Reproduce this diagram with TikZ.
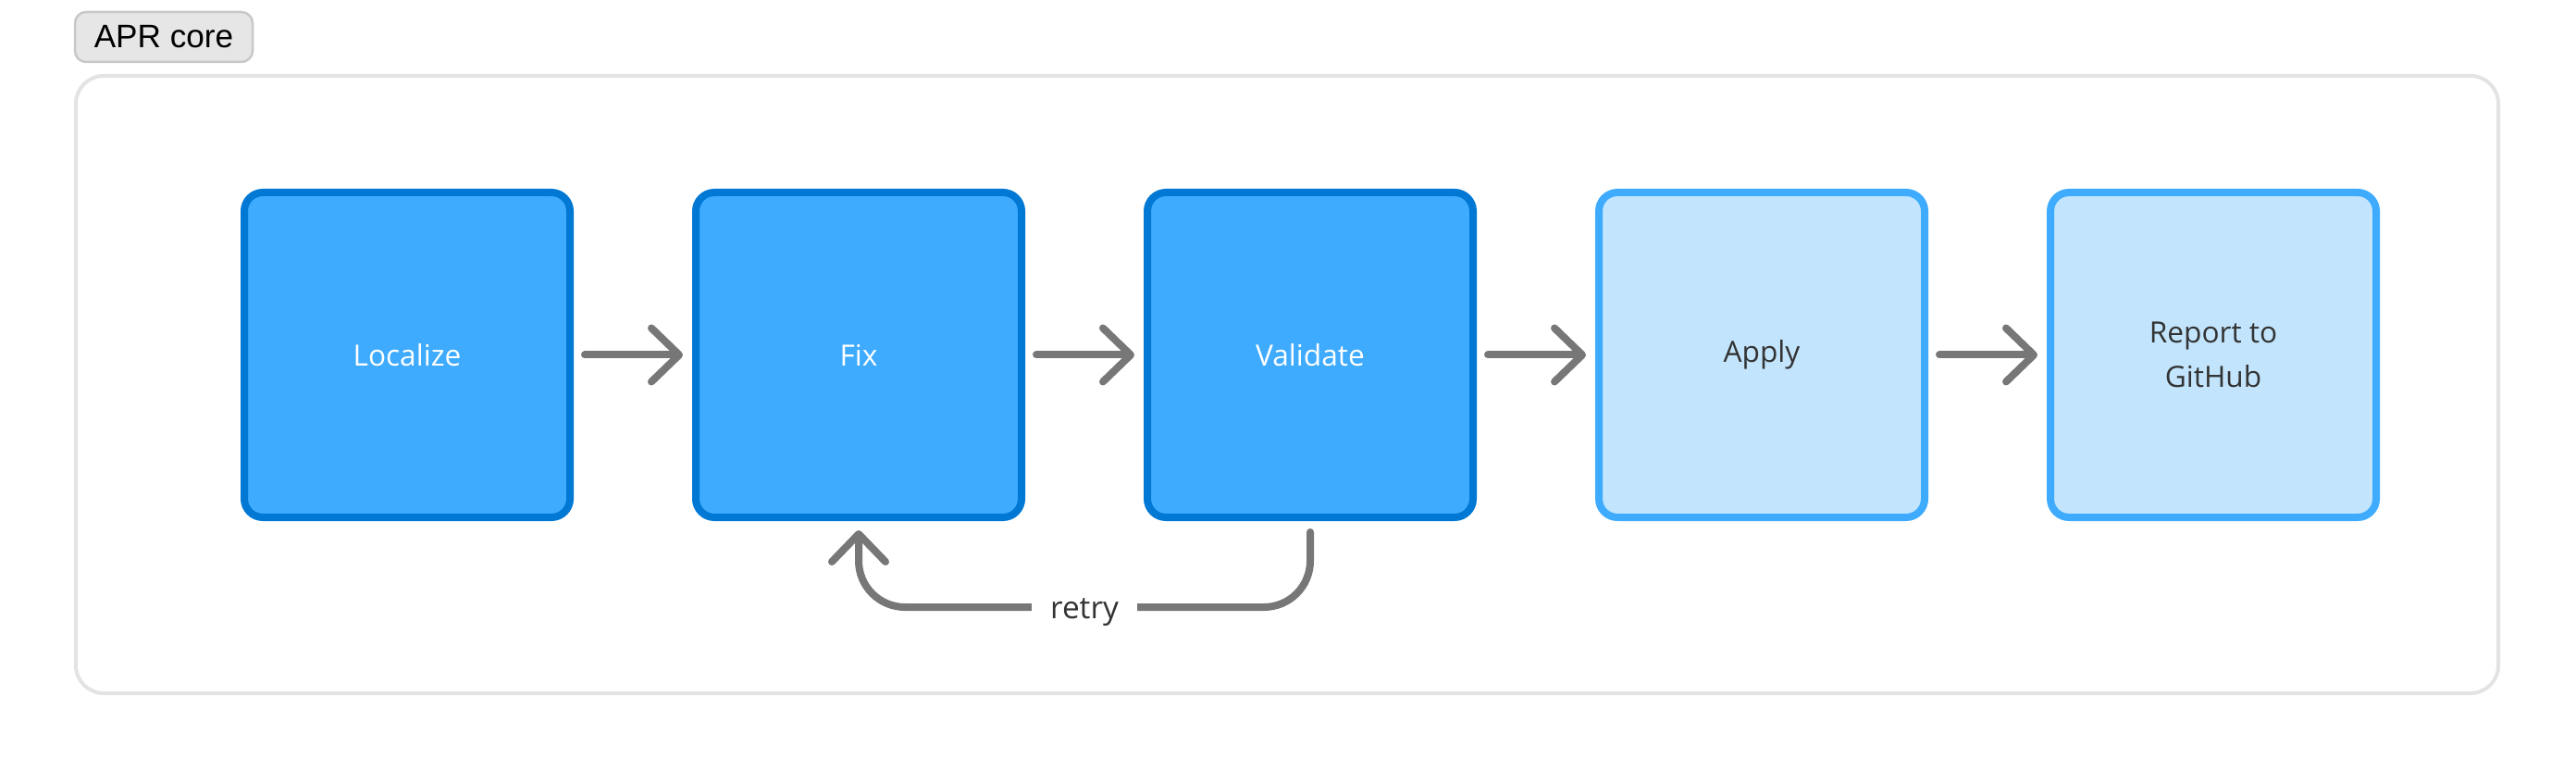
\documentclass[tikz,border=0pt]{standalone}
\usepackage{fontspec}
\setmainfont{Open Sans}
\newfontfamily\tagfont{Liberation Sans}
\usepackage{tikz}
\usetikzlibrary{arrows.meta,positioning}
\definecolor{coreblue}{HTML}{3EABFE}
\definecolor{coreedge}{HTML}{0078D4}
\definecolor{postfill}{HTML}{C2E5FD}
\definecolor{flowgray}{HTML}{777777}
\definecolor{textgray}{HTML}{333333}
\definecolor{framegray}{HTML}{E3E3E3}
\definecolor{tagfill}{HTML}{E6E6E6}
\definecolor{tagedge}{HTML}{C8C8C8}

\begin{document}
\begin{tikzpicture}[>={Straight Barb[length=0.3cm,width=0.58cm,round]}, node distance=1.28cm, font=\fontsize{9}{13.7}\selectfont]
	\tikzstyle{stage}=[draw, line width=0.08cm, rounded corners=0.2cm, minimum width=3.52cm, minimum height=3.51cm, inner sep=0pt, align=center]
	\tikzstyle{core}=[stage, fill=coreblue, draw=coreedge, text=white]
	\tikzstyle{post}=[stage, fill=postfill, draw=coreblue, text=textgray]
	\tikzstyle{flow}=[->, draw=flowgray, line width=0.08cm, line cap=round, shorten <=0.12cm, shorten >=0.1cm]
	\useasboundingbox (0,0) rectangle (27.84,-8.32);
	% frame of the core loop
	\draw[framegray, line width=0.04cm, rounded corners=0.3cm] (0.82,-0.82) rectangle (27.00,-7.49);
	\node[draw=tagedge, fill=tagfill, line width=0.025cm, rounded corners=0.12cm, minimum width=1.92cm, minimum height=0.54cm, font=\tagfont\fontsize{10}{12}\selectfont] (tag) at (1.77,-0.40) {APR core};
	% stages
	\node[core]                (loc) at (4.40,-3.835) {Localize};
	\node[core, right=of loc]  (fix) {Fix};
	\node[core, right=of fix]  (val) {Validate};
	\node[post, right=of val]  (app) {Apply};
	\node[post, right=of app]  (rep) {Report to\\GitHub};
	\draw[flow] (loc) -- (fix);
	\draw[flow] (fix) -- (val);
	\draw[flow] (val) -- (app);
	\draw[flow] (app) -- (rep);
	\draw[flow, rounded corners=0.5cm] (val.south) -- ++(0,-0.93) -| node[pos=0.25, yshift=-0.06cm, sharp corners, fill=white, text=textgray, inner xsep=0.2cm, inner ysep=0.1cm, font=\fontsize{9.5}{12}\selectfont]{retry} (fix.south);
\end{tikzpicture}
\end{document}
